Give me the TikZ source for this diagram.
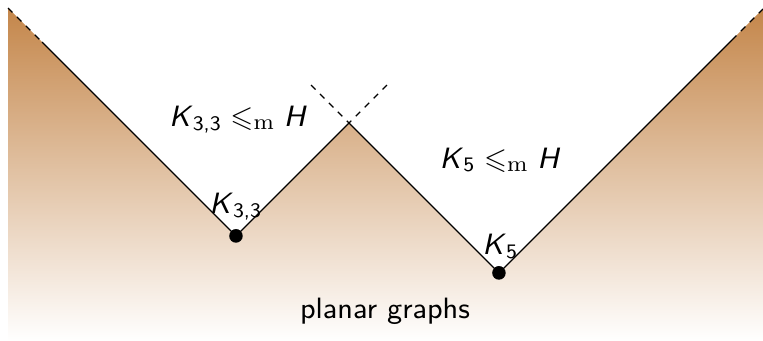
\documentclass[tikz,border=0pt]{standalone}
\usepackage{amsmath,amssymb}
\usepackage{tikz}
\usetikzlibrary{positioning}

\definecolor{minorbrown}{RGB}{196,134,74}
\newcommand{\Kgraph}[1]{\textit{K}$_{\textsf{#1}}$}
\newcommand{\minorof}{$\;\leqslant_{\mathrm{m}}\;$}

\begin{document}
\begin{tikzpicture}[
font=\fontsize{9.3pt}{11pt}\selectfont\sffamily,
dot/.style={circle, fill=black, inner sep=0pt, minimum size=1.5mm},
border/.style={black, line width=0.4pt},
extend/.style={black, line width=0.4pt, dash pattern=on 2pt off 2pt},
lbl/.style={inner sep=2pt}
]
\useasboundingbox (0,0) rectangle (8.478,3.789);
% corners of the zigzag
\coordinate (tl) at (0.089,3.700);
\coordinate (tlend) at (0.467,3.322);
\coordinate (peak) at (3.878,2.422);
\coordinate (tr) at (8.478,3.689);
\coordinate (trend) at (8.133,3.344);
\coordinate (peakl) at (3.456,2.844);
\coordinate (peakr) at (4.300,2.844);
\node[dot] (k33) at (2.622,1.167) {};
\node[dot] (k5) at (5.544,0.756) {};
% the planar region
\shade[top color=minorbrown, bottom color=white]
  (0.089,0) -- (tl) -- (k33.center) -- (peak) -- (k5.center) -- (tr) -- (8.478,0) -- cycle;
\draw[extend] (tl) -- (tlend);
\draw[border] (tlend) -- (k33.center) -- (peak) -- (k5.center) -- (trend);
\draw[extend] (trend) -- (tr);
\draw[extend] (peakl) -- (peak) -- (peakr);
\node[dot] at (k33) {};
\node[dot] at (k5) {};
% labels
\node[lbl, above=0.5pt of k33] (k33lbl) {\Kgraph{3,3}};
\node[lbl, above=0pt of k5, xshift=0.5pt] (k5lbl) {\Kgraph{5}};
\node (k33minor) at (2.644,2.456) {\Kgraph{3,3}\minorof\textit{H}};
\node (k5minor) at (5.556,2.011) {\Kgraph{5}\minorof\textit{H}};
\node (planar) at (4.278,0.333) {planar graphs};
\end{tikzpicture}
\end{document}
